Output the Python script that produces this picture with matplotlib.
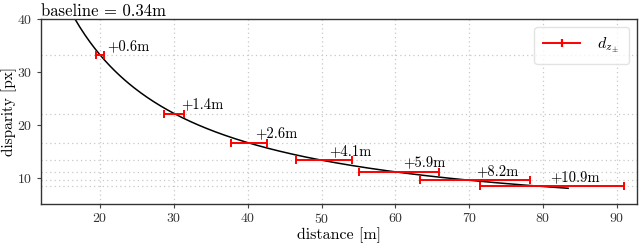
import numpy as np
import matplotlib
matplotlib.use('Agg')
from matplotlib import pyplot as plt
from matplotlib.lines import Line2D

plt.rcParams['font.family'] = 'serif'
plt.rcParams['font.serif'] = ['cmr10']
plt.rcParams['mathtext.fontset'] = 'cm'
plt.rcParams['axes.formatter.use_mathtext'] = True

# data
distance = [20, 30, 40, 50, 60, 70, 80]
disparity = [33.2, 22.1, 16.6, 13.3, 11.1, 9.5, 8.3]
err_minus = [0.6, 1.3, 2.3, 3.5, 4.9, 6.6, 8.5]
err_plus = [0.6, 1.4, 2.6, 4.1, 5.9, 8.2, 10.9]
focal_baseline = 664  # f*B in px*m, d = f*B / z
curve_start, curve_end = 16.6, 83.4

fig = plt.figure(figsize=(6.4, 2.46), dpi=100)
ax = fig.add_axes([0.064, 0.171, 0.931, 0.752])

# theoretical curve
z = np.linspace(curve_start, curve_end, 300)
ax.plot(z, focal_baseline / z, color='black', lw=1.1, zorder=2)

# horizontal error bars
ax.errorbar(distance, disparity, xerr=[err_minus, err_plus], fmt='none',
            ecolor='red', elinewidth=1.4, capsize=3, capthick=1.4, zorder=3)

for x, y, e in zip(distance, disparity, err_plus):
    ax.text(x + 1, y + 1.7, '+%.1fm' % e, fontsize=10.5, ha='left', va='center')

ax.set_xlim(12, 92.7)
ax.set_ylim(5, 40)
ax.set_xticks([20, 30, 40, 50, 60, 70, 80, 90])
ax.set_yticks([10, 20, 30, 40])
ax.set_yticks(disparity, minor=True)
ax.tick_params(axis='y', which='minor', length=0)
ax.tick_params(labelsize=10, colors='#444', labelcolor='#333', length=3, pad=3)

# grid
ax.grid(True, axis='x', which='major', linestyle=(0, (1, 2.5)), color='#c8c8c8', lw=0.9)
ax.grid(True, axis='y', which='minor', linestyle=(0, (1, 2.5)), color='#c8c8c8', lw=0.9)

for s in ax.spines.values():
    s.set_color('#333333')
    s.set_linewidth(1.0)

ax.set_title('baseline = 0.34m', loc='left', fontsize=12, pad=1)
ax.set_xlabel('distance [m]', fontsize=11.5, labelpad=1)
ax.set_ylabel('disparity [px]', fontsize=11, labelpad=0)

handle = Line2D([], [], color='red', lw=1.4, marker='|', markersize=6,
                markeredgewidth=1.6)
ax.legend([handle], [r'$d_{z_\pm}$'], loc='upper right', fontsize=11.5,
          handlelength=2.3, borderpad=0.55, handletextpad=1.1,
          framealpha=0.8, edgecolor='#dddddd')

fig.savefig('out.png', dpi=100)
